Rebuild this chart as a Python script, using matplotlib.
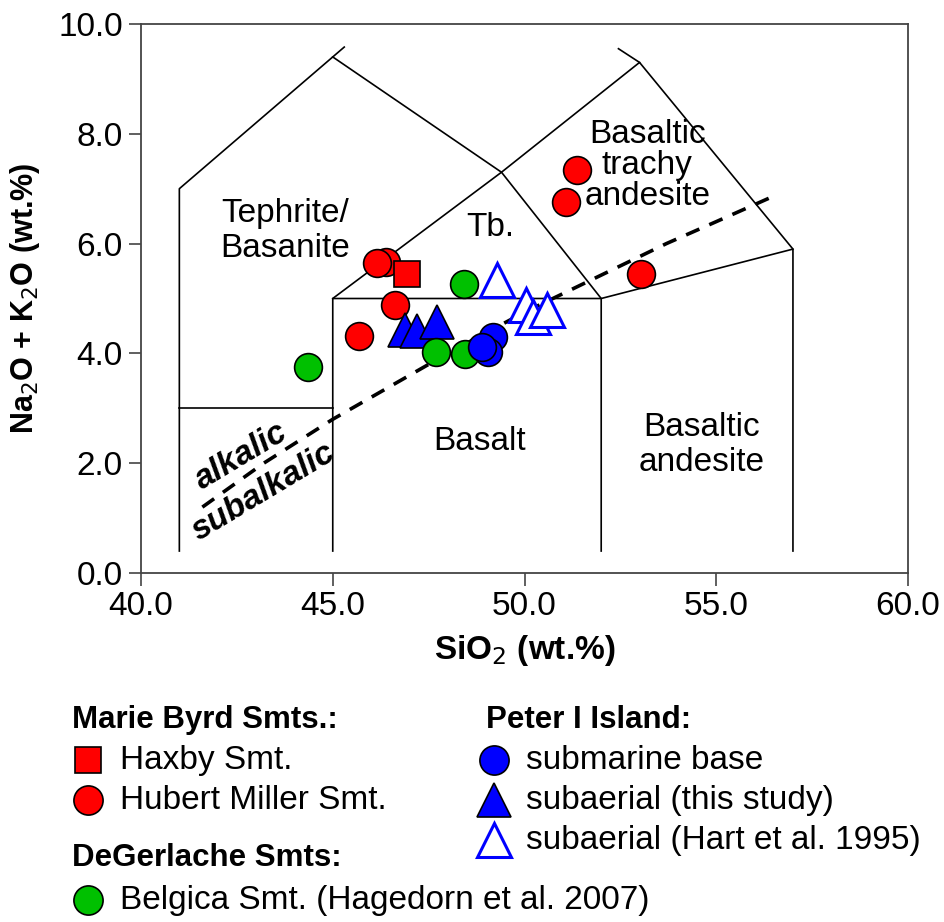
import matplotlib
matplotlib.use("Agg")
import matplotlib.pyplot as plt

plt.rcParams['font.family'] = ['Liberation Sans', 'DejaVu Sans']

# sample data (SiO2, Na2O+K2O)
haxby_sio2 = [46.93]
haxby_alk = [5.45]
hubert_sio2 = [51.36, 51.08, 53.05, 46.40, 46.15, 46.62, 45.69]
hubert_alk = [7.34, 6.76, 5.45, 5.67, 5.64, 4.88, 4.32]
belgica_sio2 = [44.36, 48.43, 47.70, 48.45]
belgica_alk = [3.75, 5.26, 4.02, 3.98]
base_sio2 = [49.19, 49.04, 48.88]
base_alk = [4.30, 4.02, 4.12]
sub_sio2 = [46.88, 47.19, 47.71]
sub_alk = [4.43, 4.40, 4.58]
hart_sio2 = [49.27, 50.05, 50.23, 50.58]
hart_alk = [5.34, 4.88, 4.67, 4.79]

# TAS field boundaries (Le Bas et al. 1986), truncated as in the figure
tas_lines = [
    [(41, 0.4), (41, 7.0), (45, 9.4), (49.4, 7.3), (52, 5.0), (52, 0.4)],
    [(41, 3.0), (45, 3.0)],
    [(45, 0.4), (45, 5.0), (52, 5.0), (57, 5.9), (57, 0.4)],
    [(45, 5.0), (49.4, 7.3), (53, 9.3), (57, 5.9)],
    [(45, 9.4), (45.3, 9.58)],
    [(53, 9.3), (52.45, 9.55)],
]
# alkalic / subalkalic divide (Macdonald & Katsura 1964)
divide_sio2 = [41.6, 43.2, 45.0, 48.0, 50.0, 53.7, 55.0, 56.45]
divide_alk = [1.2, 2.0, 2.8, 4.0, 4.75, 6.0, 6.4, 6.85]

RED = '#ff0000'
GREEN = '#00c000'
BLUE = '#0000ff'

fig = plt.figure(figsize=(9.45, 9.22), dpi=100)
ax = fig.add_axes([141 / 945, 1 - 573 / 922, 767 / 945, 549 / 922])

for seg in tas_lines:
    xs, ys = zip(*seg)
    ax.plot(xs, ys, color='black', lw=1.2, zorder=1)
ax.plot(divide_sio2, divide_alk, color='black', lw=2.6, dashes=(4, 3), zorder=1)

fs = 24
ax.text(43.75, 6.23, 'Tephrite/\nBasanite', fontsize=fs, ha='center', va='center', linespacing=1.2)
ax.text(49.1, 6.3, 'Tb.', fontsize=fs, ha='center', va='center')
ax.text(53.2, 7.43, 'Basaltic\ntrachy\nandesite', fontsize=fs, ha='center', va='center', linespacing=1.0)
ax.text(48.84, 2.39, 'Basalt', fontsize=fs, ha='center', va='center')
ax.text(54.63, 2.33, 'Basaltic\nandesite', fontsize=fs, ha='center', va='center', linespacing=1.2)
ax.text(42.62, 2.12, 'alkalic', fontsize=fs, ha='center', va='center', rotation=31,
        fontweight='bold', fontstyle='italic')
ax.text(43.2, 1.48, 'subalkalic', fontsize=fs, ha='center', va='center', rotation=31,
        fontweight='bold', fontstyle='italic')

mk = dict(linestyle='none', markeredgecolor='black', markeredgewidth=1.2)
ax.plot(hubert_sio2, hubert_alk, marker='o', ms=20, color=RED, zorder=3, **mk)
ax.plot(haxby_sio2, haxby_alk, marker='s', ms=19, color=RED, zorder=4, **mk)
ax.plot(sub_sio2, sub_alk, marker='^', ms=25, color=BLUE, zorder=4, **mk)
ax.plot(belgica_sio2, belgica_alk, marker='o', ms=20, color=GREEN, zorder=5, **mk)
ax.plot(base_sio2, base_alk, marker='o', ms=20, color=BLUE, zorder=6, **mk)
ax.plot(hart_sio2, hart_alk, marker='^', ms=25, linestyle='none', markerfacecolor='white',
        markeredgecolor=BLUE, markeredgewidth=2.2, zorder=6)

ax.set_xlim(40, 60)
ax.set_ylim(0, 10)
ax.set_xticks([40, 45, 50, 55, 60])
ax.set_yticks([0, 2, 4, 6, 8, 10])
ax.xaxis.set_major_formatter(matplotlib.ticker.FormatStrFormatter('%.1f'))
ax.yaxis.set_major_formatter(matplotlib.ticker.FormatStrFormatter('%.1f'))
ax.tick_params(direction='out', length=9, width=1.2, labelsize=24, color='#444444', pad=4)
for sp in ax.spines.values():
    sp.set_color('#444444')
    sp.set_linewidth(1.3)
ax.set_xlabel('SiO$_2$ (wt.%)', fontsize=24, fontweight='bold', labelpad=8)
ax.set_ylabel('Na$_2$O + K$_2$O (wt.%)', fontsize=22, fontweight='bold', labelpad=12)

# legend drawn by hand on a pixel-coordinate overlay
lg = fig.add_axes([0, 0, 1, 1], zorder=-1)
lg.set_xlim(0, 945)
lg.set_ylim(922, 0)
lg.axis('off')

hfs = 22.5
lfs = 24
lg.text(72, 720, 'Marie Byrd Smts.:', fontsize=hfs, fontweight='bold', va='center')
lg.text(72, 858, 'DeGerlache Smts:', fontsize=hfs, fontweight='bold', va='center')
lg.text(486, 720, 'Peter I Island:', fontsize=hfs, fontweight='bold', va='center')

entries = [
    (88, 760, dict(marker='s', ms=19, color=RED, **mk), 'Haxby Smt.'),
    (88, 800, dict(marker='o', ms=21, color=RED, **mk), 'Hubert Miller Smt.'),
    (88, 900, dict(marker='o', ms=21, color=GREEN, **mk), 'Belgica Smt. (Hagedorn et al. 2007)'),
    (494, 760, dict(marker='o', ms=21, color=BLUE, **mk), 'submarine base'),
    (494, 800, dict(marker='^', ms=25, color=BLUE, **mk), 'subaerial (this study)'),
    (494, 840, dict(marker='^', ms=25, linestyle='none', markerfacecolor='white',
                    markeredgecolor=BLUE, markeredgewidth=2.2), 'subaerial (Hart et al. 1995)'),
]
for x, y, style, label in entries:
    lg.plot([x], [y], **style)
    lg.text(x + 32, y, label, fontsize=lfs, va='center')

fig.savefig('out.png', dpi=100)
